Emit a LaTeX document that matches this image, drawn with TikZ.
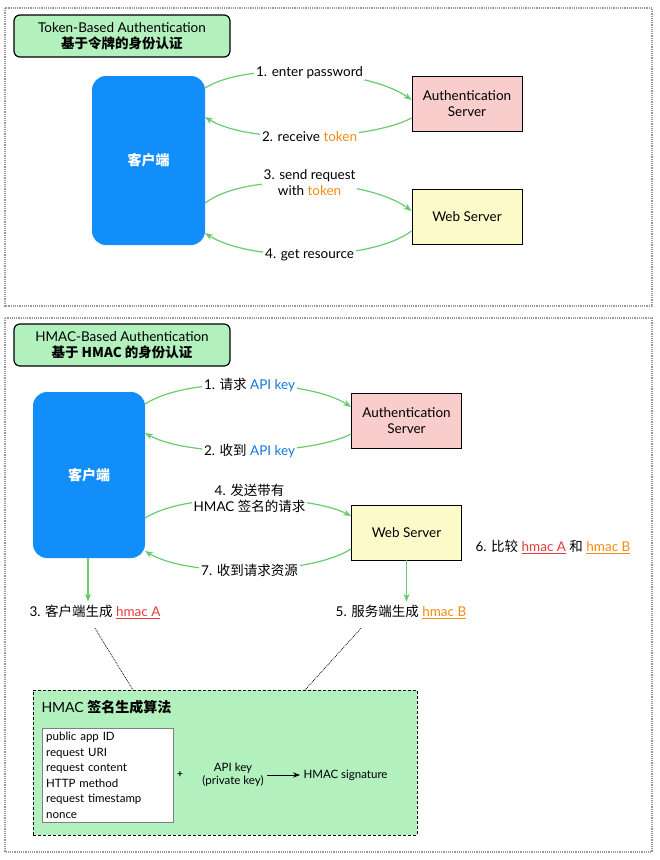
\documentclass[tikz,border=0pt]{standalone}
\usepackage{fontspec}
\setmainfont{Lato}
\newfontfamily\cjk{Noto Sans CJK SC}
\usetikzlibrary{arrows.meta,positioning}
\definecolor{arrowgreen}{RGB}{102,204,110}
\definecolor{clientblue}{RGB}{18,142,250}
\definecolor{titlegreen}{RGB}{178,240,190}
\definecolor{authpink}{RGB}{250,205,205}
\definecolor{webyellow}{RGB}{252,250,200}
\definecolor{tokenorange}{RGB}{245,140,20}
\definecolor{keyblue}{RGB}{20,120,220}
\definecolor{hmacred}{RGB}{230,60,60}

\begin{document}
\begin{tikzpicture}[
    x = 1pt,
    y = -1pt,
    font = \fontsize{13.5}{16}\selectfont,
    panel/.style = {
      draw = gray!80,
      densely dotted,
      very thick
    },
    title/.style = {
      draw,
      very thick,
      fill = titlegreen,
      rounded corners = 6pt,
      align = center,
      minimum width = 216pt,
      minimum height = 42pt,
      inner sep = 2pt
    },
    client/.style = {
      fill = clientblue,
      rounded corners = 14pt,
      text = white,
      font = \cjk\fontsize{14}{16}\selectfont\bfseries
    },
    server/.style = {
      draw,
      thick,
      align = center,
      minimum width = 110pt,
      minimum height = 55pt
    },
    flow/.style = {
      draw = arrowgreen,
      very thick,
      -{Stealth[length=8pt]}
    },
    lbl/.style = {
      fill = white,
      align = center,
      inner sep = 2pt
    }
  ]
  \useasboundingbox (0,0) rectangle (660,860);

  % token based part
  \draw[panel] (5,8) rectangle (652,306);
  \node[title] (t1) at (122,36) {Token-Based Authentication\\{\cjk\bfseries 基于令牌的身份认证}};

  \node[client, minimum width=113pt, minimum height=169pt] (c1) at (148.5,160.5) {客户端};
  \node[server, fill=authpink] (a1) at (467,103.5) {Authentication\\Server};
  \node[server, fill=webyellow] (w1) at (467,216.5) {Web Server};

  \draw[flow] (205,88) .. controls (250,60) and (370,70) .. (a1.west |- 0,100)
    node[lbl, pos=0.5] {1. enter password};
  \draw[flow] (a1.west |- 0,118) .. controls (370,140) and (250,145) .. (205,117)
    node[lbl, pos=0.5] {2. receive \textcolor{tokenorange}{token}};
  \draw[flow] (205,203) .. controls (250,170) and (370,180) .. (w1.west |- 0,211)
    node[lbl, pos=0.5] {3. send request\\with \textcolor{tokenorange}{token}};
  \draw[flow] (w1.west |- 0,231) .. controls (370,262) and (250,262) .. (205,233)
    node[lbl, pos=0.5] {4. get resource};

  % hmac based part
  \draw[panel] (5,318) rectangle (652,852);
  \node[title] (t2) at (122,345) {HMAC-Based Authentication\\{\cjk\bfseries 基于 HMAC 的身份认证}};

  \node[client, minimum width=112pt, minimum height=166pt] (c2) at (89,475) {客户端};
  \node[server, fill=authpink] (a2) at (406.5,421) {Authentication\\Server};
  \node[server, fill=webyellow] (w2) at (406.5,532.5) {Web Server};

  \draw[flow] (145,404) .. controls (190,375) and (310,380) .. (a2.west |- 0,407)
    node[lbl, pos=0.5] {1. {\cjk 请求} \textcolor{keyblue}{API key}};
  \draw[flow] (a2.west |- 0,434) .. controls (310,455) and (190,458) .. (145,433)
    node[lbl, pos=0.5] {2. {\cjk 收到} \textcolor{keyblue}{API key}};
  \draw[flow] (145,518) .. controls (190,490) and (310,495) .. (w2.west |- 0,516)
    node[lbl, pos=0.5] {4. {\cjk 发送带有}\\HMAC {\cjk 签名的请求}};
  \draw[flow] (w2.west |- 0,549) .. controls (310,575) and (190,578) .. (145,551)
    node[lbl, pos=0.5] {7. {\cjk 收到请求资源}};

  \node (ha) at (95,612) {3. {\cjk 客户端生成} \textcolor{hmacred}{\underline{hmac A}}};
  \node (hb) at (401,612) {5. {\cjk 服务端生成} \textcolor{tokenorange}{\underline{hmac B}}};
  \node (cmp) at (553,547) {6. {\cjk 比较} \textcolor{hmacred}{\underline{hmac A}} {\cjk 和} \textcolor{tokenorange}{\underline{hmac B}}};
  \draw[flow] (c2.south -| 88,0) -- (ha.north -| 88,0);
  \draw[flow] (w2.south) -- (hb.north -| w2.south);

  % algorithm box
  \node[draw, densely dashed, thick, fill=titlegreen, minimum width=384pt, minimum height=145pt] (alg) at (225,762.5) {};
  \node[anchor=west, font=\fontsize{14}{16}\selectfont] (algt) at (38,707) {HMAC {\cjk\bfseries 签名生成算法}};
  \draw[densely dotted, thick] (ha.south) ++(0,6) -- (133,690);
  \draw[densely dotted, thick] (hb.south) ++(-40,6) -- (305,690);

  \node[draw=gray, fill=white, align=left, anchor=north west, font=\fontsize{11.5}{15.5}\selectfont,
    text width=123pt, minimum height=94pt, inner sep=4pt] (params) at (42,728)
    {public app ID\\request URI\\request content\\HTTP method\\request timestamp\\nonce};
  \node[font=\bfseries] (plus) at (180,775) {+};
  \node[align=center, font=\fontsize{11.5}{13}\selectfont] (key) at (233,775) {API key\\(private key)};
  \node[anchor=west, font=\fontsize{11.5}{13}\selectfont] (sig) at (300,775) {HMAC signature};
  \draw[thick, -{Stealth[length=7pt]}] (key.east) -- (sig.west);
\end{tikzpicture}
\end{document}
